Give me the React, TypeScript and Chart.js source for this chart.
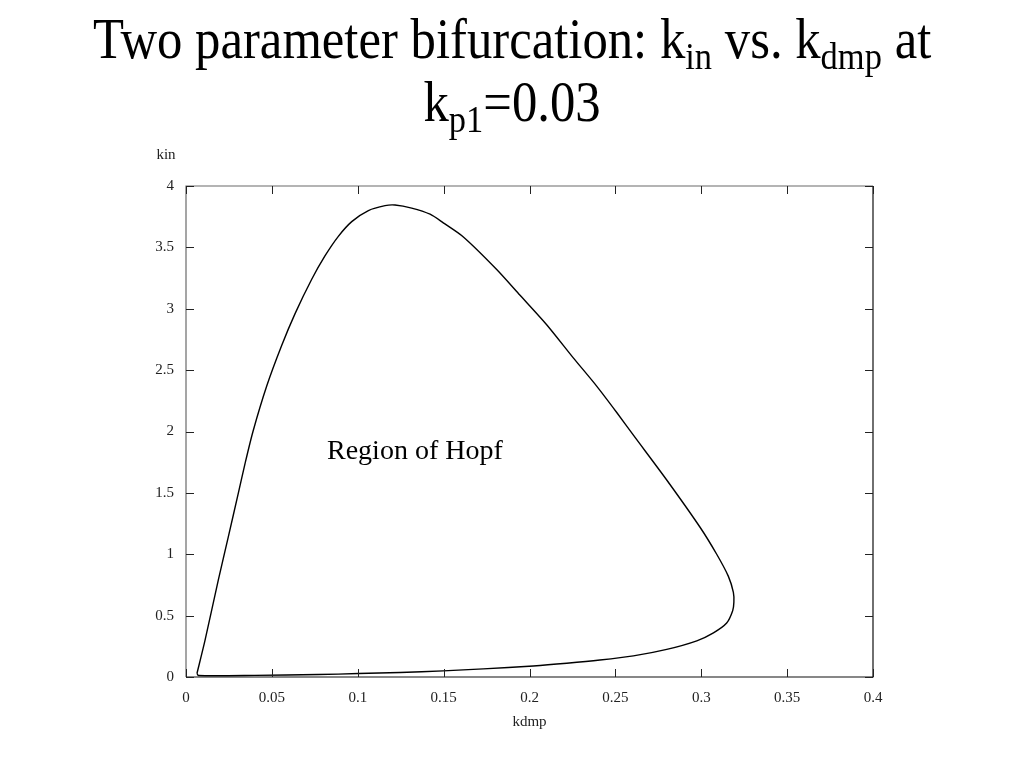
import React, { useEffect, useRef } from "react";
import { Chart, registerables } from "chart.js";

Chart.register(...registerables);

// kdmp (x) and kin (y) along the Hopf bifurcation curve
const kdmpValues = [
  0.0064, 0.0111, 0.0188, 0.0246, 0.0305, 0.0344, 0.039, 0.047, 0.0557, 0.0635,
  0.0732, 0.0809, 0.0887, 0.0965, 0.1062, 0.1159, 0.1217, 0.1314, 0.1421, 0.1498,
  0.1615, 0.1809, 0.1945, 0.21, 0.2255, 0.2391, 0.2508, 0.2605, 0.2799, 0.2993,
  0.309, 0.3158, 0.3187, 0.319, 0.3183, 0.3148, 0.3071, 0.2974, 0.2799, 0.2605,
  0.241, 0.2217, 0.2022, 0.1731, 0.1498, 0.1246, 0.1003, 0.077, 0.04, 0.0072,
  0.0064,
];
const kinValues = [
  0.03, 0.3, 0.79, 1.14, 1.5, 1.74, 2.0, 2.37, 2.7, 2.96,
  3.24, 3.43, 3.59, 3.71, 3.8, 3.84, 3.845, 3.82, 3.77, 3.7,
  3.585, 3.32, 3.11, 2.87, 2.6, 2.37, 2.155, 1.97, 1.605, 1.22,
  1.0, 0.82, 0.69, 0.61, 0.54, 0.44, 0.36, 0.295, 0.225, 0.172,
  0.138, 0.112, 0.09, 0.066, 0.05, 0.037, 0.028, 0.02, 0.013, 0.012,
  0.03,
];

const xTickLabels = ["0", "0.05", "0.1", "0.15", "0.2", "0.25", "0.3", "0.35", "0.4"];
const yTickLabels = ["0", "0.5", "1", "1.5", "2", "2.5", "3", "3.5", "4"];

const xAxisTitle = "kdmp";
const yAxisTitle = "kin";
const annotationText = "Region of Hopf";
const annotationAt = { x: 0.0821, y: 1.776 };

const SERIF = "'Liberation Serif', 'Times New Roman', serif";

const boxPlugin = {
  id: "gnuplotBox",
  afterDraw(chart: any) {
    const { ctx, chartArea } = chart;
    const { left, right, top, bottom } = chartArea;
    const xs = chart.scales.x;
    const ys = chart.scales.y;
    const tl = 8;
    ctx.save();
    ctx.lineWidth = 1.2;
    ctx.strokeStyle = "#6a6a6a";
    ctx.beginPath();
    ctx.moveTo(left, bottom);
    ctx.lineTo(left, top);
    ctx.lineTo(right, top);
    ctx.stroke();
    ctx.strokeStyle = "#111";
    ctx.beginPath();
    ctx.moveTo(right, top);
    ctx.lineTo(right, bottom);
    ctx.lineTo(left, bottom);
    ctx.stroke();
    ctx.lineWidth = 1;
    ctx.strokeStyle = "#222";
    ctx.beginPath();
    xs.ticks.forEach((t: any) => {
      const px = Math.round(xs.getPixelForValue(t.value)) + 0.5;
      ctx.moveTo(px, bottom);
      ctx.lineTo(px, bottom - tl);
      ctx.moveTo(px, top);
      ctx.lineTo(px, top + tl);
    });
    ys.ticks.forEach((t: any) => {
      const py = Math.round(ys.getPixelForValue(t.value)) + 0.5;
      ctx.moveTo(left, py);
      ctx.lineTo(left + tl, py);
      ctx.moveTo(right, py);
      ctx.lineTo(right - tl, py);
    });
    ctx.stroke();
    ctx.fillStyle = "#222";
    ctx.font = `15px ${SERIF}`;
    ctx.textAlign = "center";
    ctx.textBaseline = "alphabetic";
    ctx.fillText(xAxisTitle, (left + right) / 2, bottom + 49);
    ctx.fillText(yAxisTitle, left - 20, top - 27);
    ctx.fillStyle = "#000";
    ctx.font = `28px ${SERIF}`;
    ctx.textAlign = "left";
    ctx.fillText(
      annotationText,
      xs.getPixelForValue(annotationAt.x),
      ys.getPixelForValue(annotationAt.y)
    );
    ctx.restore();
  },
};

export default function App() {
  const canvasRef = useRef<HTMLCanvasElement | null>(null);

  useEffect(() => {
    if (!canvasRef.current) return;
    const points = kdmpValues.map((x, i) => ({ x, y: kinValues[i] }));
    const chart = new Chart(canvasRef.current, {
      type: "scatter",
      data: {
        datasets: [
          {
            data: points,
            showLine: true,
            borderColor: "#000",
            borderWidth: 1.4,
            pointRadius: 0,
            tension: 0.25,
            fill: false,
          },
        ],
      },
      options: {
        animation: false,
        responsive: false,
        events: [],
        layout: { padding: { top: 186, right: 151, left: 0, bottom: 0 } },
        plugins: {
          legend: { display: false },
          tooltip: { enabled: false },
          title: { display: false },
        },
        scales: {
          x: {
            type: "linear",
            min: 0,
            max: 0.4,
            afterFit: (s: any) => {
              s.height = 91;
            },
            grid: { display: false, drawTicks: false },
            border: { display: false },
            ticks: {
              stepSize: 0.05,
              padding: 12,
              color: "#222",
              font: { family: SERIF, size: 15 },
              maxRotation: 0,
              autoSkip: false,
              callback: (_v: any, i: number) => xTickLabels[i],
            },
          },
          y: {
            type: "linear",
            min: 0,
            max: 4,
            afterFit: (s: any) => {
              s.width = 186;
            },
            grid: { display: false, drawTicks: false },
            border: { display: false },
            ticks: {
              stepSize: 0.5,
              padding: 12,
              color: "#222",
              font: { family: SERIF, size: 15 },
              autoSkip: false,
              callback: (_v: any, i: number) => yTickLabels[i],
            },
          },
        },
      },
      plugins: [boxPlugin],
    });
    return () => chart.destroy();
  }, []);

  const subStyle: React.CSSProperties = {
    fontSize: "0.68em",
    position: "relative",
    top: "0.29em",
    verticalAlign: "baseline",
  };

  return (
    <div
      style={{
        position: "absolute",
        left: 0,
        top: 0,
        width: 1024,
        height: 768,
        background: "#fff",
        overflow: "hidden",
      }}
    >
      <canvas
        ref={canvasRef}
        width={1024}
        height={768}
        style={{ position: "absolute", left: 0, top: 0, width: 1024, height: 768 }}
      />
      <div
        style={{
          position: "absolute",
          left: 0,
          top: 10,
          width: 1024,
          textAlign: "center",
          fontFamily: SERIF,
          fontSize: 57,
          lineHeight: "57px",
          color: "#000",
          whiteSpace: "nowrap",
          transform: "scaleX(0.89)",
          transformOrigin: "513px 0",
        }}
      >
        <div>
          Two parameter bifurcation: k<span style={subStyle}>in</span> vs. k
          <span style={subStyle}>dmp</span> at
        </div>
        <div>
          k<span style={subStyle}>p1</span>=0.03
        </div>
      </div>
    </div>
  );
}
